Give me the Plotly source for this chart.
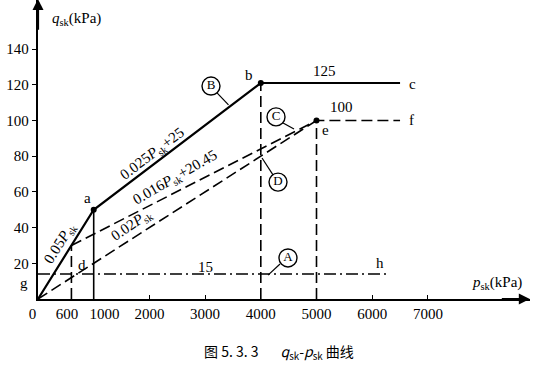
import plotly.graph_objects as go

# ---- data ----
B_x = [0, 1000, 4000, 6500]          # 0.05p -> a -> b -> c
B_y = [0, 50, 121, 121]
C_x = [600, 5000, 6500]              # d -> e -> f
C_y = [30, 100, 100]
D_x = [0, 5000]                      # 0.02p
D_y = [0, 100]
A_x = [0, 6300]                      # g -> h, q = 15
A_y = [14, 14]
V_dash_x = [600, 4000, 5000]         # dashed verticals
V_dash_top = [30, 121, 100]
V_solid_x = [1000]
V_solid_top = [50]
pts_x = [1000, 4000, 5000]
pts_y = [50, 121, 100]

# tick labels (positions nudged like the original so 600 and 1000 don't collide)
x_label_pos = [0, 520, 1194, 2000, 3000, 4000, 5000, 6000, 7000]
x_label_text = ["0&nbsp;&nbsp;&nbsp;", "600", "1000", "2000", "3000", "4000",
                "5000", "6000", "7000"]
x_tick_marks = [2000, 3000, 4000, 5000, 6000, 7000]
y_ticks = [20, 40, 60, 80, 100, 120, 140]

SERIF = "Times New Roman, Liberation Serif, serif"
DASH = "11px,5px"
DASHDOT = "12px,4px,2px,4px"

fig = go.Figure()

fig.add_trace(go.Scatter(x=B_x, y=B_y, mode="lines",
                         line=dict(color="black", width=2.2)))
fig.add_trace(go.Scatter(x=C_x, y=C_y, mode="lines",
                         line=dict(color="black", width=1.6, dash=DASH)))
fig.add_trace(go.Scatter(x=D_x, y=D_y, mode="lines",
                         line=dict(color="black", width=1.6, dash=DASH)))
fig.add_trace(go.Scatter(x=A_x, y=A_y, mode="lines",
                         line=dict(color="black", width=1.4, dash=DASHDOT)))
for vx, vt in zip(V_dash_x, V_dash_top):
    fig.add_trace(go.Scatter(x=[vx, vx], y=[0, vt], mode="lines",
                             line=dict(color="black", width=1.6, dash=DASH)))
for vx, vt in zip(V_solid_x, V_solid_top):
    fig.add_trace(go.Scatter(x=[vx, vx], y=[0, vt], mode="lines",
                             line=dict(color="black", width=1.6)))
fig.add_trace(go.Scatter(x=pts_x, y=pts_y, mode="markers",
                         marker=dict(color="black", size=6)))

# circled labels
circ_x = [3106, 4273, 4309, 4488]
circ_y = [119.3, 102, 65.5, 23]
circ_t = ["B", "C", "D", "A"]
fig.add_trace(go.Scatter(x=circ_x, y=circ_y, mode="markers+text", text=circ_t,
                         textposition="middle center",
                         textfont=dict(family=SERIF, size=13, color="black"),
                         marker=dict(symbol="circle", size=18, color="white",
                                     line=dict(color="black", width=1.4))))

# leader lines (pixel-estimated, in data units)
leaders = [((3214, 115.5), (3420, 108.7)),
           ((4400, 98.6), (4596, 95.2)),
           ((4022, 79), (4219, 69.5)),
           ((4345, 19.6), (4130, 13.4))]
for (x0, y0), (x1, y1) in leaders:
    fig.add_shape(type="line", x0=x0, y0=y0, x1=x1, y1=y1,
                  line=dict(color="black", width=1.2))

def ann(text, x, y, size=15, angle=0, xref="x", yref="y", xanchor="center",
        family=SERIF):
    fig.add_annotation(text=text, x=x, y=y, xref=xref, yref=yref,
                       showarrow=False, textangle=angle, xanchor=xanchor,
                       yanchor="middle",
                       font=dict(family=family, size=size, color="black"))

ann("0.025<i>P</i><sub>sk</sub>+25", 2065, 81, size=15, angle=-37)
ann("0.016<i>P</i><sub>sk</sub>+20.45", 2460, 68, size=15, angle=-30)
ann("0.02<i>P</i><sub>sk</sub>", 1690, 41.5, size=15, angle=-34)
ann("0.05<i>P</i><sub>sk</sub>", 400, 31.5, size=15, angle=-58)

ann("a", 880, 56.6)
ann("b", 3788, 125.5)
ann("c", 6732, 120.5)
ann("d", 790, 19)
ann("e", 5170, 94.7)
ann("f", 6700, 100.5)
ann("h", 6140, 20)
ann("15", 3000, 18)
ann("125", 5150, 127.5)
ann("100", 5440, 107.5)
ann("g", -0.028, 0.052, xref="paper", yref="paper")

ann("<i>q</i><sub>sk</sub>(kPa)", 0.024, 0.936, xref="paper", yref="paper", xanchor="left")
ann("<i>p</i><sub>sk</sub>(kPa)", 7750, 9, xanchor="left")

fig.add_annotation(text="图 5. 3. 3&nbsp;&nbsp;&nbsp;&nbsp;&nbsp;&nbsp;&nbsp;<i>q</i><sub>sk</sub>-<i>p</i><sub>sk</sub> 曲线",
                   x=0.49, y=-0.177, xref="paper", yref="paper", showarrow=False,
                   yanchor="middle",
                   font=dict(family="Noto Sans CJK SC", size=14, color="black"))

# axis arrows
fig.add_annotation(x=0, y=168, ax=0, ay=150, xref="x", yref="y", axref="x", ayref="y",
                   showarrow=True, arrowhead=2, arrowsize=1, arrowwidth=2.2,
                   arrowcolor="black", text="")
fig.add_annotation(x=8830, y=0, ax=8300, ay=0, xref="x", yref="y", axref="x", ayref="y",
                   showarrow=True, arrowhead=2, arrowsize=1, arrowwidth=2.2,
                   arrowcolor="black", text="")

fig.update_layout(
    width=535, height=367,
    margin=dict(l=38, r=5, t=0, b=68),
    paper_bgcolor="white", plot_bgcolor="white",
    showlegend=False,
    font=dict(family=SERIF, size=15, color="black"),
)
fig.update_xaxes(range=[0, 8833], tickmode="array", tickvals=x_label_pos,
                 ticktext=x_label_text,
                 showgrid=False, zeroline=False, showline=True, linecolor="black",
                 linewidth=2.4, ticks="", tickangle=0, automargin=False,
                 minor=dict(tickmode="array", tickvals=x_tick_marks, ticks="inside",
                            ticklen=4, tickcolor="black", tickwidth=1.2, showgrid=False),
                 tickfont=dict(family=SERIF, size=15))
fig.update_yaxes(range=[0, 167.5], tickvals=y_ticks,
                 showgrid=False, zeroline=False, showline=True, linecolor="black",
                 linewidth=2.4, ticks="outside", ticklen=4, tickcolor="black",
                 automargin=False,
                 tickfont=dict(family=SERIF, size=15))

fig.write_html("out.html", config={"displayModeBar": False},
               post_script="document.body.style.margin='0';document.body.style.padding='0';")
